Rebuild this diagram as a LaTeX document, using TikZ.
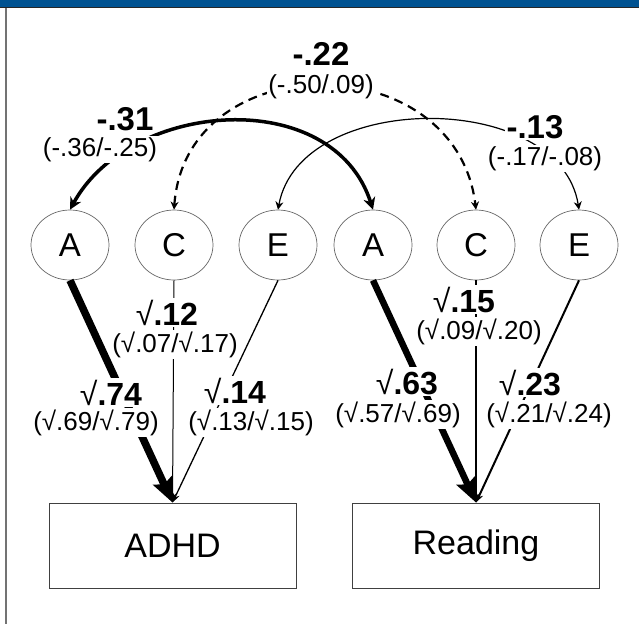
\documentclass[tikz,border=0pt]{standalone}
\usepackage{fontspec}
\setmainfont{Liberation Sans}
\usetikzlibrary{arrows.meta, positioning, shapes.geometric}
\definecolor{barblue}{RGB}{0,82,145}

\begin{document}
\begin{tikzpicture}[
		x=1pt, y=-1pt,
		latent/.style={ellipse, draw=black!60, line width=0.7pt, minimum width=78pt, minimum height=70pt, inner sep=0pt, font=\fontsize{33}{33}\selectfont},
		observed/.style={rectangle, draw=black!75, line width=0.9pt, minimum width=247pt, minimum height=85pt, font=\fontsize{34}{34}\selectfont},
		path arrow/.style={-{Stealth[length=9pt, width=7pt]}},
		big arrow/.style={-{Stealth[length=24pt, width=20pt, inset=4pt]}},
		corr/.style={{Stealth[length=#1, width=#1]}-{Stealth[length=#1, width=#1]}},
		value/.style={anchor=base, fill=white, inner sep=1.5pt, font=\fontsize{33}{33}\selectfont\bfseries},
		root/.style={anchor=base, fill=white, inner sep=1.5pt, font=\fontsize{32}{32}\selectfont},
		ci/.style={anchor=base, fill=white, inner sep=1.5pt, font=\fontsize{26}{26}\selectfont}
		]
		\useasboundingbox (0,0) rectangle (639,624);
		
		% Frame
		\fill[barblue] (0,0) rectangle (639,7);
		\draw[black!85, line width=1pt] (0,7.5) -- (639,7.5);
		\draw[black!55, line width=1.2pt] (6,8) -- (6,624);
		
		% Nodes
		\node[latent] (A1) at (70,245) {A};
		\node[latent] (C1) at (174,245) {C};
		\node[latent] (E1) at (278,245) {E};
		\node[latent] (A2) at (373,245) {A};
		\node[latent] (C2) at (476,245) {C};
		\node[latent] (E2) at (579,245) {E};
		
		\node[observed] (ADHD) at (172.5,545.5) {ADHD};
		\node[observed] (Reading) at (476,545.5) {Reading};
		
		% Paths to ADHD
		\draw[path arrow, line width=1pt] (C1.south) -- (ADHD.north);
		\draw[path arrow, line width=1.3pt] (E1.south) -- (ADHD.north);
		\draw[big arrow, line width=7.5pt] (A1.south) -- (ADHD.north);
		
		% Paths to Reading
		\draw[path arrow, line width=1.5pt] (C2.south) -- (Reading.north);
		\draw[path arrow, line width=2pt] (E2.south) -- (Reading.north);
		\draw[big arrow, line width=6.5pt] (A2.south) -- (Reading.north);
		
		% Correlations between the two traits
		\draw[corr=12pt, line width=3.5pt] (A1.north) .. controls +(60,-110) and +(-40,-125) .. (A2.north);
		\draw[corr=8pt, line width=2.2pt, dash pattern=on 9pt off 6pt] (C1.north) .. controls +(12,-165) and +(-20,-165) .. (C2.north);
		\draw[corr=8pt, line width=1.2pt] (E1.north) .. controls +(22,-120) and +(-19,-120) .. (E2.north);
		
		% Estimates
		\node[value] (rA) at (125,130) {-.31};
		\node[ci] (ciA) at (100,156) {(-.36/-.25)};
		\node[value] (rC) at (321,65) {-.22};
		\node[ci] (ciC) at (321,93) {(-.50/.09)};
		\node[value] (rE) at (535,138) {-.13};
		\node[ci] (ciE) at (545,165) {(-.17/-.08)};
		
		\node[root] (pA1) at (111,405) {√\textbf{.74}};
		\node[ci] (qA1) at (96,430) {(√.69/√.79)};
		\node[root] (pC1) at (167,325) {√\textbf{.12}};
		\node[ci] (qC1) at (175,352) {(√.07/√.17)};
		\node[root] (pE1) at (235,403) {√\textbf{.14}};
		\node[ci] (qE1) at (251,430) {(√.13/√.15)};
		
		\node[root] (pA2) at (407,394) {√\textbf{.63}};
		\node[ci] (qA2) at (398,422) {(√.57/√.69)};
		\node[root] (pC2) at (464,312) {√\textbf{.15}};
		\node[ci] (qC2) at (479,339) {(√.09/√.20)};
		\node[root] (pE2) at (530,395) {√\textbf{.23}};
		\node[ci] (qE2) at (549,422) {(√.21/√.24)};
		
	\end{tikzpicture}
\end{document}
